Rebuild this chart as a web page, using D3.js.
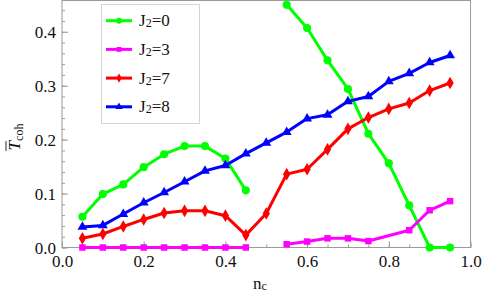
<!DOCTYPE html>
<html>
<head>
<meta charset="utf-8">
<script src="https://cdn.jsdelivr.net/npm/d3@7"></script>
</head>
<body style="margin:0;background:#fff">
<svg id="chart" width="491" height="299" style="display:block"></svg>
<script>
// n_c sample points
const nc = [0.05, 0.1, 0.15, 0.2, 0.25, 0.3, 0.35, 0.4, 0.45, 0.5,
            0.55, 0.6, 0.65, 0.7, 0.75, 0.8, 0.85, 0.9, 0.95];

// null = break in the curve, NaN = no sample (line runs straight past it)
const j2_0 = [0.057, 0.099, 0.117, 0.149, 0.173, 0.188, 0.188, 0.165, 0.106, null,
              0.450, 0.407, 0.347, 0.294, 0.211, 0.156, 0.078, 0.0, 0.0];
const j2_3 = [0, 0, 0, 0, 0, 0, 0, 0, 0, null,
              0.006, 0.011, 0.017, 0.017, 0.012, NaN, 0.032, 0.069, 0.086];
const j2_7 = [0.017, 0.025, 0.039, 0.052, 0.064, 0.068, 0.068, 0.059, 0.023, 0.063,
              0.136, 0.145, 0.182, 0.220, 0.241, 0.257, 0.268, 0.291, 0.305];
const j2_8 = [0.038, 0.041, 0.062, 0.083, 0.102, 0.122, 0.142, 0.152, 0.174, 0.194,
              0.214, 0.239, 0.246, 0.271, 0.280, 0.308, 0.323, 0.343, 0.356];

const seriesNames = ['0', '3', '7', '8'];
const seriesColors = ['#00ff00', '#ff00ff', '#ff0000', '#0000ff'];
const seriesShapes = [d3.symbolCircle, d3.symbolSquare, d3.symbolDiamond, d3.symbolTriangle];
const seriesSizes = [52, 42, 46, 42];

const xTicks = [0.0, 0.2, 0.4, 0.6, 0.8, 1.0];
const yTicks = [0.0, 0.1, 0.2, 0.3, 0.4];

const FONT = "'Times New Roman', serif";
const GRAY = '#9a9a9a';

const svg = d3.select('#chart');
const margin = { top: 0.5, right: 20.5, bottom: 51.5, left: 62 };
const W = 491, H = 299;

const x = d3.scaleLinear().domain([0, 1]).range([margin.left, W - margin.right]);
const y = d3.scaleLinear().domain([0, 0.458]).range([H - margin.bottom, margin.top]);

function lbl (sel, size) {
  return sel.style('font-family', FONT).style('font-size', (size || 17) + 'px').style('fill', '#111');
}

// frame
svg.append('rect')
  .attr('x', x(0)).attr('y', y(0.458))
  .attr('width', x(1) - x(0)).attr('height', y(0) - y(0.458))
  .attr('fill', 'none').attr('stroke', GRAY);

// ticks (inward, mathematica style)
const minorX = d3.range(0, 1.0001, 0.05).map(v => +v.toFixed(2));
const minorY = d3.range(0, 0.4501, 0.02).map(v => +v.toFixed(2));

function axis (gen, transform) {
  let g = svg.append('g').attr('transform', transform).call(gen);
  g.select('.domain').remove();
  g.selectAll('.tick line').attr('stroke', GRAY);
  return g;
}

axis(d3.axisBottom(x).tickValues(minorX).tickSize(-3).tickFormat(''), `translate(0,${y(0)})`);
axis(d3.axisBottom(x).tickValues(xTicks).tickSize(-6).tickFormat(d3.format('.1f')), `translate(0,${y(0)})`)
  .selectAll('text').call(lbl).attr('y', 19.5).attr('dy', 0);

axis(d3.axisLeft(y).tickValues(minorY).tickSize(-3).tickFormat(''), `translate(${x(0)},0)`);
axis(d3.axisLeft(y).tickValues(yTicks).tickSize(-6).tickFormat(d3.format('.1f')), `translate(${x(0)},0)`)
  .selectAll('text').call(lbl).attr('x', -6).attr('dy', '0.33em');

// axis labels
svg.append('text').call(lbl, 17)
  .attr('x', 253).attr('y', 289)
  .text('n')
  .append('tspan').style('font-size', '12px').attr('dy', 1).text('c');

const yl = svg.append('g').attr('transform', 'translate(19.5,137) rotate(-90)');
yl.append('text').call(lbl, 17).attr('text-anchor', 'middle')
  .html('<tspan style="font-style:italic">T</tspan><tspan style="font-size:12px" dy="3">coh</tspan>');
yl.append('line').attr('x1', -14).attr('x2', -4).attr('y1', -13.5).attr('y2', -13.5)
  .attr('stroke', '#111').attr('stroke-width', 0.9);

// series
const allSeries = [j2_0, j2_3, j2_7, j2_8];
const line = d3.line()
  .defined(d => d.v !== null)
  .x(d => x(d.n)).y(d => y(d.v));

allSeries.forEach((vals, i) => {
  const pts = nc.map((n, k) => ({ n, v: vals[k] })).filter(d => !Number.isNaN(d.v));
  const g = svg.append('g');
  g.append('path').datum(pts)
    .attr('d', line)
    .attr('fill', 'none')
    .attr('stroke', seriesColors[i])
    .attr('stroke-width', 3)
    .attr('stroke-linejoin', 'round');
  g.selectAll('path.pt').data(pts.filter(d => d.v !== null)).enter()
    .append('path').attr('class', 'pt')
    .attr('transform', d => `translate(${x(d.n)},${y(d.v)})`)
    .attr('d', d3.symbol().type(seriesShapes[i]).size(seriesSizes[i]))
    .attr('fill', seriesColors[i]);
});

// legend
const lg = svg.append('g');
lg.append('rect').attr('x', 101.5).attr('y', 4.5).attr('width', 98).attr('height', 119)
  .attr('fill', '#fff').attr('stroke', '#d4d4d4');
seriesNames.forEach((nm, i) => {
  const ly = 20.7 + i * 28.7;
  lg.append('line').attr('x1', 106).attr('x2', 132).attr('y1', ly).attr('y2', ly)
    .attr('stroke', seriesColors[i]).attr('stroke-width', 3);
  lg.append('path').attr('transform', `translate(119,${ly})`)
    .attr('d', d3.symbol().type(seriesShapes[i]).size(seriesSizes[i] * 0.55))
    .attr('fill', seriesColors[i]);
  lg.append('text').call(lbl, 17).attr('x', 139).attr('y', ly + 5.5)
    .html(`J<tspan style="font-size:12px" dy="1">2</tspan><tspan dy="-1">=${nm}</tspan>`);
});
</script>
</body>
</html>
